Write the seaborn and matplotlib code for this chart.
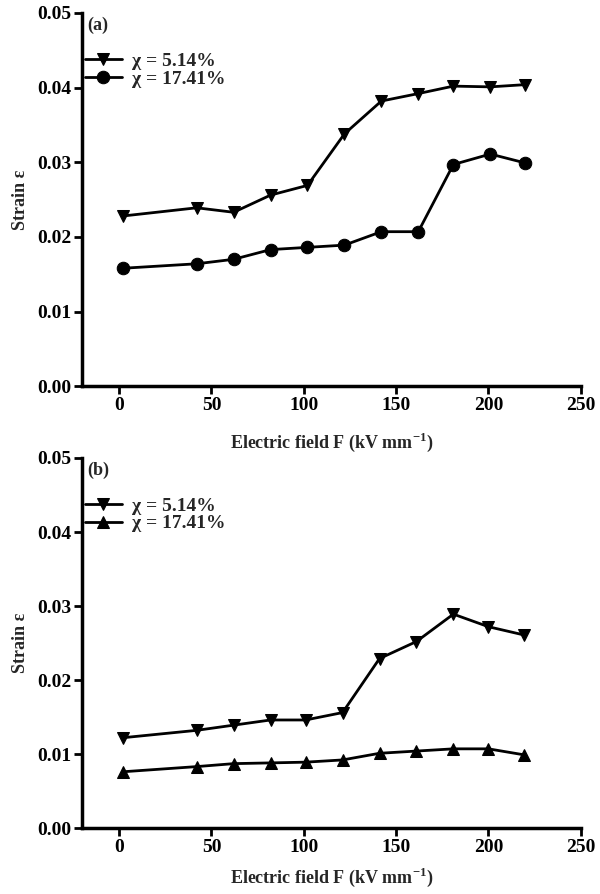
import matplotlib
matplotlib.use("Agg")
import matplotlib.pyplot as plt
import seaborn as sns
import pandas as pd

# ---- data ----
field_a = [2, 42, 62, 82, 102, 122, 142, 162, 181, 201, 220]
strain_a_514 = [0.0228, 0.0239, 0.0233, 0.0256, 0.0269, 0.0338, 0.0382, 0.0392, 0.0402, 0.0401, 0.0404]
strain_a_1741 = [0.0158, 0.0164, 0.0170, 0.0183, 0.0186, 0.0189, 0.0207, 0.0207, 0.0297, 0.0311, 0.0299]

field_b = [2, 42, 62, 82, 101, 121, 141, 161, 181, 200, 219]
strain_b_514 = [0.0122, 0.0132, 0.0139, 0.0146, 0.0146, 0.0156, 0.0229, 0.0252, 0.0289, 0.0272, 0.0261]
strain_b_1741 = [0.0076, 0.0083, 0.0087, 0.0088, 0.0089, 0.0092, 0.0101, 0.0104, 0.0107, 0.0107, 0.0099]

labels = ["χ = 5.14%", "χ = 17.41%"]
xticks = [0, 50, 100, 150, 200, 250]
yticks = [0.00, 0.01, 0.02, 0.03, 0.04, 0.05]
xlabel = "Electric field F (kV mm$^{\\mathbf{-1}}$)"
ylabel = "Strain ε"

sns.set_theme(style="ticks")
plt.rcParams['font.family'] = ['Liberation Serif', 'DejaVu Serif']
plt.rcParams['font.weight'] = 'bold'
plt.rcParams['mathtext.fontset'] = 'custom'
plt.rcParams['mathtext.rm'] = 'Liberation Serif:bold'
plt.rcParams['mathtext.bf'] = 'Liberation Serif:bold'

fig = plt.figure(figsize=(6, 8.94), dpi=100)
ax1 = fig.add_axes([0.137, 0.568, 0.831, 0.4175])
ax2 = fig.add_axes([0.137, 0.0738, 0.831, 0.4139])

def panel(ax, x, y1, y2, m2, tag, xpad):
    df1 = pd.DataFrame({"x": x, "y": y1})
    df2 = pd.DataFrame({"x": x, "y": y2})
    sns.lineplot(data=df1, x="x", y="y", ax=ax, color="black", marker="v",
                 markersize=9, markeredgecolor="black", linewidth=2, label=labels[0])
    sns.lineplot(data=df2, x="x", y="y", ax=ax, color="black", marker=m2,
                 markersize=9, markeredgecolor="black", linewidth=2, label=labels[1])
    ax.set_xlim(-20, 250)
    ax.set_ylim(0, 0.05)
    ax.set_xticks(xticks)
    ax.set_yticks(yticks)
    ax.set_yticklabels([f"{v:.2f}" for v in yticks])
    ax.set_xticklabels([str(v) for v in xticks])
    for s in ["top", "right"]:
        ax.spines[s].set_visible(False)
    for s in ["left", "bottom"]:
        ax.spines[s].set_linewidth(2.5)
        ax.spines[s].set_color("black")
    ax.tick_params(axis="both", direction="out", length=6, width=2, colors="black",
                   labelsize=14, pad=2)
    for t in ax.get_xticklabels() + ax.get_yticklabels():
        t.set_fontweight("bold")
    ax.set_xlabel(xlabel, fontsize=13, fontweight="bold", labelpad=xpad)
    ax.set_ylabel(ylabel, fontsize=13, fontweight="bold", labelpad=6)
    ax.text(0.01, 0.99, tag, transform=ax.transAxes, fontsize=13,
            fontweight="bold", va="top", ha="left")
    leg = ax.legend(loc="upper left", bbox_to_anchor=(-0.01, 0.915), frameon=False,
                    fontsize=14, handlelength=1.9, handletextpad=0.5,
                    borderaxespad=0, labelspacing=0.0)
    for t in leg.get_texts():
        t.set_fontweight("bold")

panel(ax1, field_a, strain_a_514, strain_a_1741, "o", "(a)", 12)
panel(ax2, field_b, strain_b_514, strain_b_1741, "^", "(b)", 7)

fig.savefig("out.png", dpi=100)
